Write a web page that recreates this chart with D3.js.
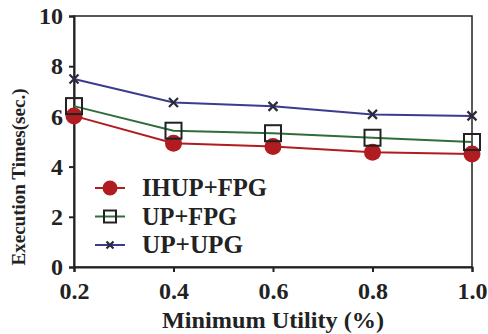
<!DOCTYPE html>
<html>
<head>
<meta charset="utf-8">
<script src="https://cdn.jsdelivr.net/npm/d3@7"></script>
<style>
  body { margin: 0; background: #fff; }
  text { font-family: "Liberation Serif", "Times New Roman", serif; font-weight: bold; fill: #222; }
</style>
</head>
<body>
<svg id="chart" width="488" height="334"></svg>
<script>
const utility = [0.2, 0.4, 0.6, 0.8, 1.0];
const ihupFpg = [6.02, 4.93, 4.8, 4.57, 4.5];
const upFpg = [6.41, 5.43, 5.33, 5.15, 4.98];
const upUpg = [7.49, 6.55, 6.4, 6.08, 6.02];
const yTicks = [0, 2, 4, 6, 8, 10];
const xTicks = [0.2, 0.4, 0.6, 0.8, 1.0];

const series = [
    { name: "UP+UPG", values: upUpg, color: "#3b3b8f", marker: "x" },
    { name: "IHUP+FPG", values: ihupFpg, color: "#b01c20", marker: "circle" },
    { name: "UP+FPG", values: upFpg, color: "#2f6e3c", marker: "square" },
];
const legendOrder = ["IHUP+FPG", "UP+FPG", "UP+UPG"];
const legendWidths = { "IHUP+FPG": 125, "UP+FPG": 95, "UP+UPG": 101 };

const svg = d3.select("#chart");
const plotL = 74, plotR = 472, plotT = 16, plotB = 267;

const x = d3.scaleLinear().domain([0.2, 1.0]).range([plotL, plotR]);
const y = d3.scaleLinear().domain([0, 10]).range([plotB, plotT]);

// frame
svg.append("rect")
    .attr("x", plotL).attr("y", plotT)
    .attr("width", plotR - plotL).attr("height", plotB - plotT)
    .attr("fill", "none").attr("stroke", "#222").attr("stroke-width", 1.5);

const xAxis = svg.append("g")
    .attr("transform", `translate(0,${plotB})`)
    .call(d3.axisBottom(x).tickValues(xTicks).tickFormat(d3.format(".1f")).tickSize(5).tickPadding(10));
xAxis.selectAll("text").attr("font-size", 24);

const yAxis = svg.append("g")
    .attr("transform", `translate(${plotL},0)`)
    .call(d3.axisLeft(y).tickValues(yTicks).tickSize(5).tickPadding(6));
yAxis.selectAll("text").attr("font-size", 24);

svg.selectAll(".domain").attr("stroke", "#222").attr("stroke-width", 2);
svg.selectAll(".tick line").attr("stroke", "#222").attr("stroke-width", 2);
svg.selectAll(".tick text")
    .style("font-family", "'Liberation Serif', serif")
    .style("font-weight", "bold").attr("fill", "#333");

// axis titles
svg.append("text")
    .attr("x", (plotL + plotR) / 2).attr("y", 328)
    .attr("text-anchor", "middle").attr("font-size", 24)
    .attr("textLength", 222).attr("lengthAdjust", "spacingAndGlyphs")
    .text("Minimum Utility (%)");

svg.append("text")
    .attr("transform", "translate(25,177) rotate(-90)")
    .attr("text-anchor", "middle").attr("font-size", 18)
    .attr("textLength", 177).attr("lengthAdjust", "spacingAndGlyphs")
    .text("Execution Times(sec.)");

function drawMarker(g, type, cx, cy, size, color) {
    if (type === "circle") {
        g.append("circle").attr("cx", cx).attr("cy", cy).attr("r", size / 2)
            .attr("fill", color);
    } else if (type === "square") {
        g.append("rect").attr("x", cx - size / 2).attr("y", cy - size / 2)
            .attr("width", size).attr("height", size)
            .attr("fill", "none").attr("stroke", "#222").attr("stroke-width", 2);
    } else {
        const h = size / 2;
        g.append("path")
            .attr("d", `M${cx - h},${cy - h}L${cx + h},${cy + h}M${cx - h},${cy + h}L${cx + h},${cy - h}`)
            .attr("stroke", "#2a2a3a").attr("stroke-width", 2.2);
    }
}

const line = d3.line().x((d, i) => x(utility[i])).y(d => y(d));

series.forEach(s => {
    const g = svg.append("g");
    g.append("path").datum(s.values)
        .attr("d", line).attr("fill", "none")
        .attr("stroke", s.color).attr("stroke-width", 2);
    const size = s.marker === "circle" ? 17 : s.marker === "square" ? 16 : 9;
    s.values.forEach((v, i) => drawMarker(g, s.marker, x(utility[i]), y(v), size, s.color));
});

// legend
const legend = svg.append("g");
legendOrder.forEach((name, i) => {
    const s = series.find(d => d.name === name);
    const ly = 188 + i * 28.5;
    legend.append("line").attr("x1", 95).attr("x2", 125).attr("y1", ly).attr("y2", ly)
        .attr("stroke", s.color).attr("stroke-width", 2);
    const size = s.marker === "circle" ? 15 : s.marker === "square" ? 12 : 7;
    drawMarker(legend, s.marker, 110, ly, size, s.color);
    legend.append("text").attr("x", 142).attr("y", ly + 8)
        .attr("font-size", 25)
        .attr("textLength", legendWidths[name]).attr("lengthAdjust", "spacingAndGlyphs")
        .text(name);
});
</script>
</body>
</html>
